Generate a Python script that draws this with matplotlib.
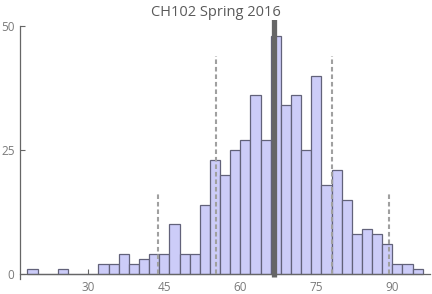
import matplotlib
matplotlib.use("Agg")
import matplotlib.pyplot as plt

# ---- data ----
bin_starts = [18, 20, 22, 24, 26, 28, 30, 32, 34, 36, 38, 40, 42, 44, 46, 48,
              50, 52, 54, 56, 58, 60, 62, 64, 66, 68, 70, 72, 74, 76, 78, 80,
              82, 84, 86, 88, 90, 92, 94]
counts = [1, 0, 0, 1, 0, 0, 0, 2, 2, 4, 2, 3, 4, 4, 10, 4,
          4, 14, 23, 20, 25, 27, 36, 27, 48, 34, 36, 25, 40, 18, 21, 15,
          8, 9, 8, 6, 2, 2, 1]
bin_width = 2
mean_score = 66.6
std_score = 11.4
sd_multiples = [-2, -1, 1, 2]
sd_line_heights = [16.5, 44, 44, 16.5]
x_ticks = [30, 45, 60, 75, 90]
y_ticks = [0, 25, 50]
title = "CH102 Spring 2016"

plt.rcParams['font.family'] = ['Open Sans', 'DejaVu Sans']

fig = plt.figure(figsize=(4.32, 2.94), dpi=100)
ax = fig.add_axes([20/432, 1 - 279/294, 410/432, 259/294])

ax.bar(bin_starts, counts, width=bin_width, align='edge',
       color='#ccccf8', edgecolor='#62627a', linewidth=0.9, zorder=2)

for m, h in zip(sd_multiples, sd_line_heights):
    xv = mean_score + m * std_score
    ax.plot([xv, xv], [0, h], color='#a0a0a0', linewidth=1.5,
            linestyle=(0, (2.2, 1.4)), zorder=3)

ax.plot([mean_score, mean_score], [-0.6, 60], color='#666666',
        linewidth=3.8, zorder=4, solid_capstyle='butt', clip_on=True)

ax.set_xlim(16.52, 97.44)
ax.set_ylim(-1.0, 51.2)

for s in ['top', 'right']:
    ax.spines[s].set_visible(False)
ax.spines['bottom'].set_position(('data', 0))
ax.spines['left'].set_bounds(-1.0, 50)
ax.spines['bottom'].set_bounds(16.52, 97.44)
for s in ['left', 'bottom']:
    ax.spines[s].set_color('#666666')
    ax.spines[s].set_linewidth(0.9)

ax.set_xticks(x_ticks)
ax.set_yticks(y_ticks)
ax.tick_params(axis='x', direction='in', length=3.5, width=0.8,
               color='#666666', labelcolor='#7a7a7a', labelsize=8.5, pad=5)
ax.tick_params(axis='y', direction='in', length=3.5, width=0.8,
               color='#666666', labelcolor='#7a7a7a', labelsize=8.5, pad=4)

fig.text(216/432, 1 - 12/294, title, ha='center', va='center',
         fontsize=10.5, color='#5a5a5a')

fig.savefig("out.png", dpi=100)
